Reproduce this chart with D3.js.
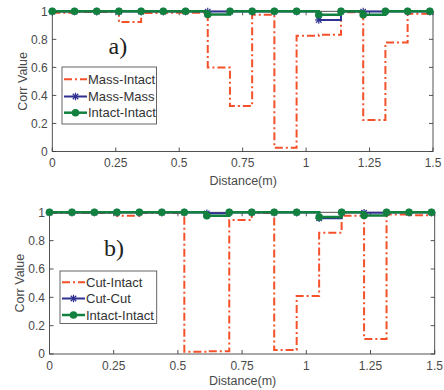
<!DOCTYPE html>
<html>
<head>
<meta charset="utf-8">
<script src="https://cdn.jsdelivr.net/npm/d3@7/dist/d3.min.js"></script>
<style>
  html, body { margin: 0; padding: 0; background: #fff; }
  svg { display: block; }
</style>
</head>
<body>
<svg id="chart" width="444" height="390"></svg>
<script>
// ---- data ----
const distance = [0, 0.0875, 0.175, 0.2625, 0.35, 0.4375, 0.525, 0.6125, 0.7, 0.7875,
                  0.875, 0.9625, 1.05, 1.1375, 1.225, 1.3125, 1.4, 1.4875];

// panel a)
const massIntact   = [0.99, 0.995, 0.995, 0.923, 0.987, 0.99, 0.99, 0.60, 0.325, 0.975,
                      0.027, 0.825, 0.832, 0.994, 0.225, 0.777, 0.982, 0.985];
const massMass     = [0.998, 0.998, 0.998, 0.998, 0.998, 0.998, 0.998, 0.998, 0.998, 0.998,
                      0.998, 0.998, 0.938, 0.998, 0.998, 0.998, 0.998, 0.998];
const intactA      = [1, 1, 1, 1, 1, 1, 1, 0.977, 1, 1,
                      1, 1, 0.975, 1, 0.975, 1, 1, 1];

// panel b)
const cutIntact    = [0.995, 0.995, 0.995, 0.976, 0.995, 0.995, 0.016, 0.02, 0.946, 0.995,
                      0.028, 0.409, 0.856, 0.975, 0.106, 0.985, 0.98, 0.985];
const cutCut       = [0.998, 0.998, 0.998, 0.998, 0.998, 0.998, 0.998, 0.993, 0.998, 0.998,
                      0.998, 0.998, 0.958, 0.998, 0.997, 0.998, 0.998, 0.998];
const intactB      = [1, 1, 1, 1, 1, 1, 1, 0.976, 1, 1,
                      1, 1, 0.966, 1, 0.977, 1, 1, 1];

const xTicks = [0, 0.25, 0.5, 0.75, 1, 1.25, 1.5];
const xTickLabels = ["0", "0.25", "0.5", "0.75", "1", "1.25", "1.5"];
const yTicks = [0, 0.2, 0.4, 0.6, 0.8, 1];
const yTickLabels = ["0", "0.2", "0.4", "0.6", "0.8", "1"];

const legendA = ["Mass-Intact", "Mass-Mass", "Intact-Intact"];
const legendB = ["Cut-Intact", "Cut-Cut", "Intact-Intact"];

// ---- style ----
const RED = "#f4502a", BLUE = "#2e3192", GREEN = "#12803e";
const AXIS = "#404040", TEXT = "#4a4a4a";
const FONT = "Liberation Sans, Arial, sans-serif";
const DASH = "8,3,2,3";

const svg = d3.select("#chart");

function panel(opt) {
  const x = d3.scaleLinear().domain([0, 1.5]).range([opt.x0, opt.x1]);
  const y = d3.scaleLinear().domain([0, 1]).range([opt.y0, opt.y1]);
  const g = svg.append("g");

  g.append("rect").attr("x", opt.x0).attr("y", opt.y1)
    .attr("width", opt.x1 - opt.x0).attr("height", opt.y0 - opt.y1)
    .attr("fill", "none").attr("stroke", AXIS).attr("stroke-width", 0.9);

  const tl = 4;
  xTicks.forEach((t, i) => {
    const px = x(t);
    g.append("line").attr("x1", px).attr("x2", px).attr("y1", opt.y0).attr("y2", opt.y0 - tl)
      .attr("stroke", AXIS).attr("stroke-width", 0.9);
    g.append("line").attr("x1", px).attr("x2", px).attr("y1", opt.y1).attr("y2", opt.y1 + tl)
      .attr("stroke", AXIS).attr("stroke-width", 0.9);
    g.append("text").attr("x", px).attr("y", opt.xLabelY)
      .attr("text-anchor", "middle").attr("font-family", FONT).attr("font-size", 12)
      .attr("fill", TEXT).text(xTickLabels[i]);
  });
  yTicks.forEach((t, i) => {
    const py = y(t);
    g.append("line").attr("x1", opt.x0).attr("x2", opt.x0 + tl).attr("y1", py).attr("y2", py)
      .attr("stroke", AXIS).attr("stroke-width", 0.9);
    g.append("line").attr("x1", opt.x1).attr("x2", opt.x1 - tl).attr("y1", py).attr("y2", py)
      .attr("stroke", AXIS).attr("stroke-width", 0.9);
    g.append("text").attr("x", opt.x0 - 4.5).attr("y", py + 4.2)
      .attr("text-anchor", "end").attr("font-family", FONT).attr("font-size", 12)
      .attr("fill", TEXT).text(yTickLabels[i]);
  });

  g.append("text").attr("x", (opt.x0 + opt.x1) / 2 + 0.5).attr("y", opt.titleY)
    .attr("text-anchor", "middle").attr("font-family", FONT).attr("font-size", 12.5)
    .attr("fill", TEXT).text("Distance(m)");
  g.append("text")
    .attr("transform", `translate(${opt.yTitleX},${(opt.y0 + opt.y1) / 2}) rotate(-90)`)
    .attr("text-anchor", "middle").attr("font-family", FONT).attr("font-size", 12.5)
    .attr("fill", TEXT).text("Corr Value");

  g.append("text").attr("x", opt.labX).attr("y", opt.labY)
    .attr("font-family", "Liberation Serif, Times New Roman, serif").attr("font-size", 24)
    .attr("fill", "#222").text(opt.label);

  const line = d3.line().x((d, i) => x(distance[i])).y(d => y(d)).curve(d3.curveStepAfter);
  g.append("path").datum(opt.red).attr("d", line).attr("fill", "none")
    .attr("stroke", RED).attr("stroke-width", 2).attr("stroke-dasharray", DASH);
  g.append("path").datum(opt.blue).attr("d", line).attr("fill", "none")
    .attr("stroke", BLUE).attr("stroke-width", 2);
  opt.blue.forEach((v, i) => drawStar(g, x(distance[i]), y(v)));
  g.append("path").datum(opt.green).attr("d", line).attr("fill", "none")
    .attr("stroke", GREEN).attr("stroke-width", 2.5);
  g.selectAll(null).data(opt.green).enter().append("circle")
    .attr("cx", (d, i) => x(distance[i])).attr("cy", d => y(d)).attr("r", 3.8)
    .attr("fill", GREEN);

  const L = opt.legend;
  g.append("rect").attr("x", L.x).attr("y", L.y).attr("width", L.w).attr("height", L.h)
    .attr("fill", "#fff").attr("stroke", "#555").attr("stroke-width", 0.9);
  opt.legendLabels.forEach((name, i) => {
    const ry = L.rows[i];
    const lx0 = L.x + 2, lx1 = L.x + 25;
    const ln = g.append("line").attr("x1", lx0).attr("x2", lx1).attr("y1", ry).attr("y2", ry);
    if (i === 0) ln.attr("stroke", RED).attr("stroke-width", 2).attr("stroke-dasharray", DASH);
    if (i === 1) { ln.attr("stroke", BLUE).attr("stroke-width", 2); drawStar(g, (lx0 + lx1) / 2, ry); }
    if (i === 2) {
      ln.attr("stroke", GREEN).attr("stroke-width", 2.5);
      g.append("circle").attr("cx", (lx0 + lx1) / 2).attr("cy", ry).attr("r", 3.8).attr("fill", GREEN);
    }
    g.append("text").attr("x", L.x + 26).attr("y", ry + 4.6)
      .attr("font-family", FONT).attr("font-size", 13).attr("fill", "#333").text(name);
  });
}

function drawStar(g, cx, cy) {
  const r = 3.8, d = r * 0.72;
  const segs = [[-r, 0, r, 0], [0, -r, 0, r], [-d, -d, d, d], [-d, d, d, -d]];
  segs.forEach(s => g.append("line")
    .attr("x1", cx + s[0]).attr("y1", cy + s[1]).attr("x2", cx + s[2]).attr("y2", cy + s[3])
    .attr("stroke", BLUE).attr("stroke-width", 1.2));
}

panel({
  x0: 52.3, x1: 433, y0: 151.5, y1: 11.3,
  xLabelY: 167, titleY: 184.5, yTitleX: 26.5,
  label: "a)", labX: 108.5, labY: 54,
  red: massIntact, blue: massMass, green: intactA,
  legendLabels: legendA,
  legend: { x: 62, y: 67, w: 94.5, h: 57, rows: [79.3, 96.5, 112.7] }
});

panel({
  x0: 49.5, x1: 434.7, y0: 354, y1: 212.3,
  xLabelY: 369.5, titleY: 384.5, yTitleX: 23.5,
  label: "b)", labX: 104, labY: 256,
  red: cutIntact, blue: cutCut, green: intactB,
  legendLabels: legendB,
  legend: { x: 60, y: 271, w: 96.7, h: 52.5, rows: [282.3, 298.5, 315] }
});
</script>
</body>
</html>
